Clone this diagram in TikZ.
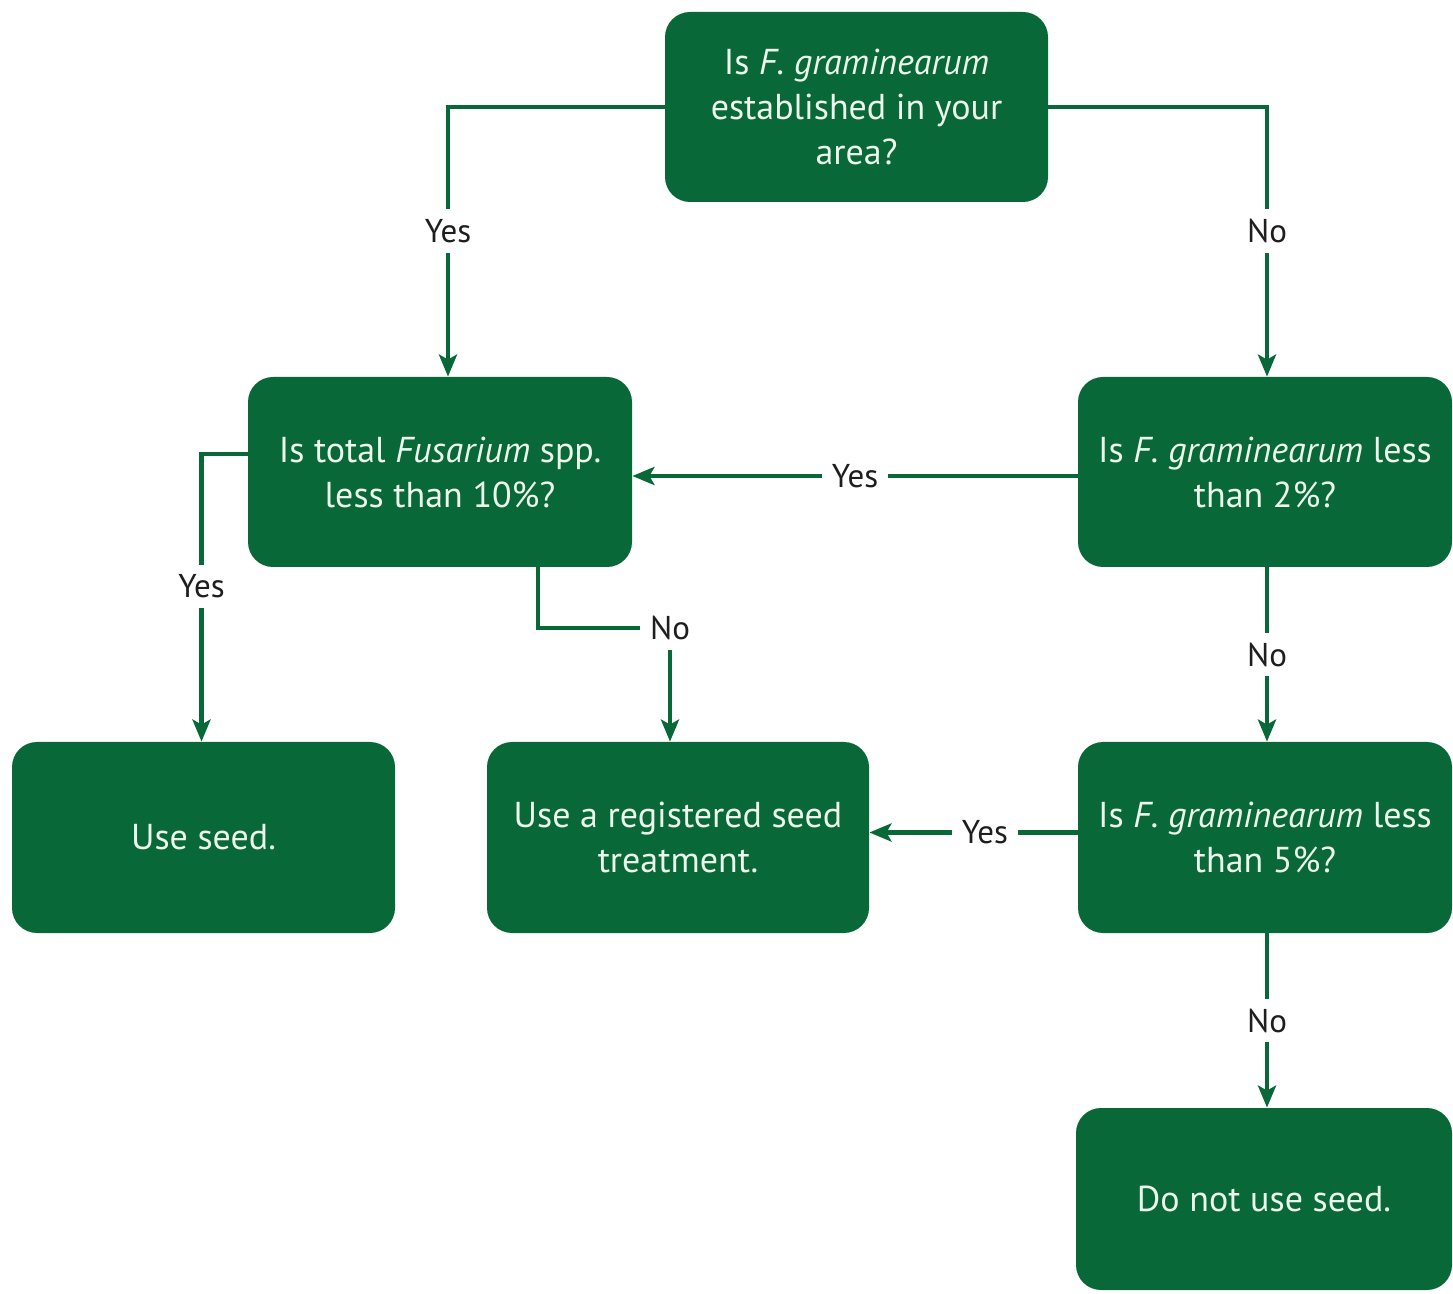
\documentclass[tikz,border=0pt]{standalone}
\usepackage{fontspec}
\setmainfont{PT Sans}
\usetikzlibrary{arrows.meta}
\definecolor{fgreen}{RGB}{9,104,55}
\definecolor{ftext}{RGB}{236,246,236}
\definecolor{lbltext}{RGB}{30,30,30}
\begin{document}
\begin{tikzpicture}[x=0.5pt,y=-0.5pt,
  box/.style={fill=fgreen, rounded corners=12.5pt, text=ftext, align=center,
    font=\fontsize{18}{22.5}\selectfont, inner sep=0pt, minimum height=95pt},
  conn/.style={draw=fgreen, line width=2.4pt},
  arr/.style={conn, -{Stealth[length=11pt,width=9pt,inset=2.5pt]}},
  lbl/.style={fill=white, text=lbltext, font=\fontsize{16.5}{20}\selectfont, inner sep=5pt}
]
\useasboundingbox (0,0) rectangle (1453,1294);

\node[box, minimum width=191.5pt] (top) at (856.5,107) {Is \textit{F. graminearum}\\established in your\\area?};
\node[box, minimum width=192pt] (lq) at (440,472) {Is total \textit{Fusarium} spp.\\less than 10\%?};
\node[box, minimum width=187pt] (rq) at (1265,472) {Is \textit{F. graminearum} less\\than 2\%?};
\node[box, minimum width=191.5pt, minimum height=95.5pt] (seed) at (203.5,837.5) {Use seed.};
\node[box, minimum width=191pt, minimum height=95.5pt] (reg) at (678,837.5) {Use a registered seed\\treatment.};
\node[box, minimum width=187pt, minimum height=95.5pt] (rq2) at (1265,837.5) {Is \textit{F. graminearum} less\\than 5\%?};
\node[box, minimum width=188pt, minimum height=91pt] (dn) at (1264,1199) {Do not use seed.};

\coordinate (nob) at (670,628);

\draw[arr] (top.west) -| node[lbl, pos=0.73] (l1) {Yes} ([xshift=4pt]lq.north);
\draw[arr] (top.east) -| node[lbl, pos=0.73] (l2) {No} ([xshift=1pt]rq.north);
\draw[arr] ([yshift=-2pt]rq.west) -- node[lbl, pos=0.5] (l3) {Yes} ([yshift=-2pt]lq.east);
\draw[arr] ([yshift=9pt]lq.west) -| node[lbl, pos=0.73] (l4) {Yes} ([xshift=-1pt]seed.north);
\draw[arr] ([xshift=49pt]lq.south) |- (nob) -- (nob |- reg.north);
\node[lbl] (l5) at (nob) {No};
\draw[arr] ([xshift=1pt]rq.south) -- node[lbl, pos=0.5] (l6) {No} ([xshift=1pt]rq2.north);
\draw[arr] ([yshift=2.5pt]rq2.west) -- node[lbl, pos=0.445] (l7) {Yes} ([yshift=2.5pt]reg.east);
\draw[arr] ([xshift=1pt]rq2.south) -- node[lbl, pos=0.5] (l8) {No} ([xshift=1pt]rq2.south |- dn.north);
\end{tikzpicture}
\end{document}
